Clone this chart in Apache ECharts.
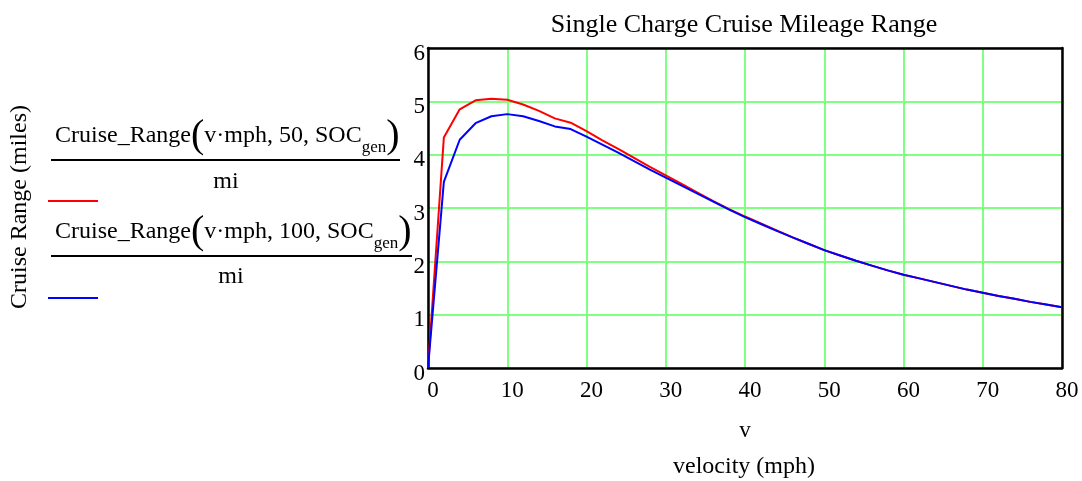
<!DOCTYPE html>
<html><head><meta charset="utf-8">
<script src="https://cdn.jsdelivr.net/npm/echarts@6/dist/echarts.min.js"></script>
<style>html,body{margin:0;padding:0;background:#fff}#c{width:1082px;height:481px}</style>
</head><body><div id="c"></div>
<script>
// velocity (mph)
const velocity = [0,2,4,6,8,10,12,14,16,18,20,22,24,26,28,30,32,34,36,38,40,42,44,46,48,50,52,54,56,58,60,62,64,66,68,70,72,74,76,78,80];
// Cruise_Range(v·mph, 50, SOC_gen)/mi
const range50 = [0,4.32,4.85,5.02,5.05,5.03,4.94,4.82,4.68,4.60,4.44,4.27,4.11,3.94,3.77,3.61,3.45,3.29,3.13,2.98,2.84,2.71,2.58,2.45,2.33,2.21,2.11,2.01,1.92,1.83,1.75,1.68,1.61,1.54,1.47,1.41,1.35,1.30,1.24,1.19,1.14];
// Cruise_Range(v·mph, 100, SOC_gen)/mi
const range100 = [0,3.49,4.28,4.59,4.72,4.76,4.72,4.63,4.53,4.48,4.34,4.19,4.04,3.88,3.72,3.57,3.42,3.27,3.12,2.97,2.83,2.70,2.57,2.45,2.33,2.21,2.11,2.01,1.92,1.83,1.75,1.68,1.61,1.54,1.47,1.41,1.35,1.30,1.24,1.19,1.14];
const titleText = 'Single Charge Cruise Mileage Range';
const yName = 'Cruise Range (miles)';
const xName = 'v';
const xSubName = 'velocity (mph)';

const FF = 'Liberation Serif';
const chart = echarts.init(document.getElementById('c'), null, {renderer:'canvas'});
const rich = {
  n:{fontSize:24,fontFamily:FF,color:'#000'},
  p:{fontSize:40,fontFamily:FF,color:'#000'},
  s:{fontSize:17,fontFamily:FF,color:'#000',verticalAlign:'bottom',padding:[12,0,0,0]}
};
function legendBlock(label, textY, lineY, lineEnd, miX, miY, sampleY, color){
  return [
    {type:'text',left:55,top:textY,style:{text:'{n|Cruise_Range}{p|(}{n|v·mph, '+label+', SOC}{s|gen}{p|)}',rich:rich}},
    {type:'line',shape:{x1:51,y1:lineY,x2:lineEnd,y2:lineY},style:{stroke:'#000',lineWidth:2}},
    {type:'text',x:miX,y:miY,style:{text:'mi',font:'24px '+FF,fill:'#000',align:'center',verticalAlign:'middle'}},
    {type:'line',shape:{x1:48,y1:sampleY,x2:98,y2:sampleY},style:{stroke:color,lineWidth:2}}
  ];
}
const axisFont = {fontFamily:FF,fontSize:23,color:'#000'};
chart.setOption({
  animation:false,
  backgroundColor:'#fff',
  title:{text:titleText,left:739,top:7,textAlign:'center',textStyle:{fontFamily:FF,fontSize:26,fontWeight:'normal',color:'#000'}},
  grid:{left:428,top:48,width:634,height:320,show:false},
  xAxis:[{type:'value',min:0,max:80,interval:10,position:'bottom',
    name:xName,nameLocation:'middle',nameGap:51,
    nameTextStyle:axisFont,
    axisLine:{show:true,onZero:false,lineStyle:{color:'#000',width:2.5}},axisTick:{show:false},
    axisLabel:Object.assign({margin:11,padding:[0,0,0,10]},axisFont),
    splitLine:{show:true,lineStyle:{color:'#80ff80',width:2}}},
    {type:'value',min:0,max:80,interval:10,position:'top',
    axisLine:{show:true,onZero:false,lineStyle:{color:'#000',width:2.5}},axisTick:{show:false},axisLabel:{show:false},splitLine:{show:false}}],
  yAxis:[{type:'value',min:0,max:6,interval:1,position:'left',
    axisLine:{show:true,onZero:false,lineStyle:{color:'#000',width:2.5}},axisTick:{show:false},
    axisLabel:{margin:3,formatter:'{t|{value}}',rich:{t:Object.assign({padding:[11,0,0,0]},axisFont)}},
    splitLine:{show:true,lineStyle:{color:'#80ff80',width:2}}},
    {type:'value',min:0,max:6,interval:1,position:'right',
    axisLine:{show:true,onZero:false,lineStyle:{color:'#000',width:2.5}},axisTick:{show:false},axisLabel:{show:false},splitLine:{show:false}}],
  graphic:[
    {type:'text',x:20,y:207,rotation:Math.PI/2,style:{text:yName,font:'24px '+FF,fill:'#000',align:'center',verticalAlign:'middle'}},
    {type:'text',x:744,y:467,style:{text:xSubName,font:'24px '+FF,fill:'#000',align:'center',verticalAlign:'middle'}},
    ...legendBlock('50',116,160,400,226,182,201,'#ff0000'),
    ...legendBlock('100',212,256,412,231,277,298,'#0000ff')
  ],
  series:[
    {type:'line',xAxisIndex:0,yAxisIndex:0,data:velocity.map((v,i)=>[v,range50[i]]),showSymbol:false,lineStyle:{color:'#ff0000',width:2},itemStyle:{color:'#ff0000'},z:3},
    {type:'line',xAxisIndex:0,yAxisIndex:0,data:velocity.map((v,i)=>[v,range100[i]]),showSymbol:false,lineStyle:{color:'#0000ff',width:2},itemStyle:{color:'#0000ff'},z:4}
  ]
});
</script></body></html>
